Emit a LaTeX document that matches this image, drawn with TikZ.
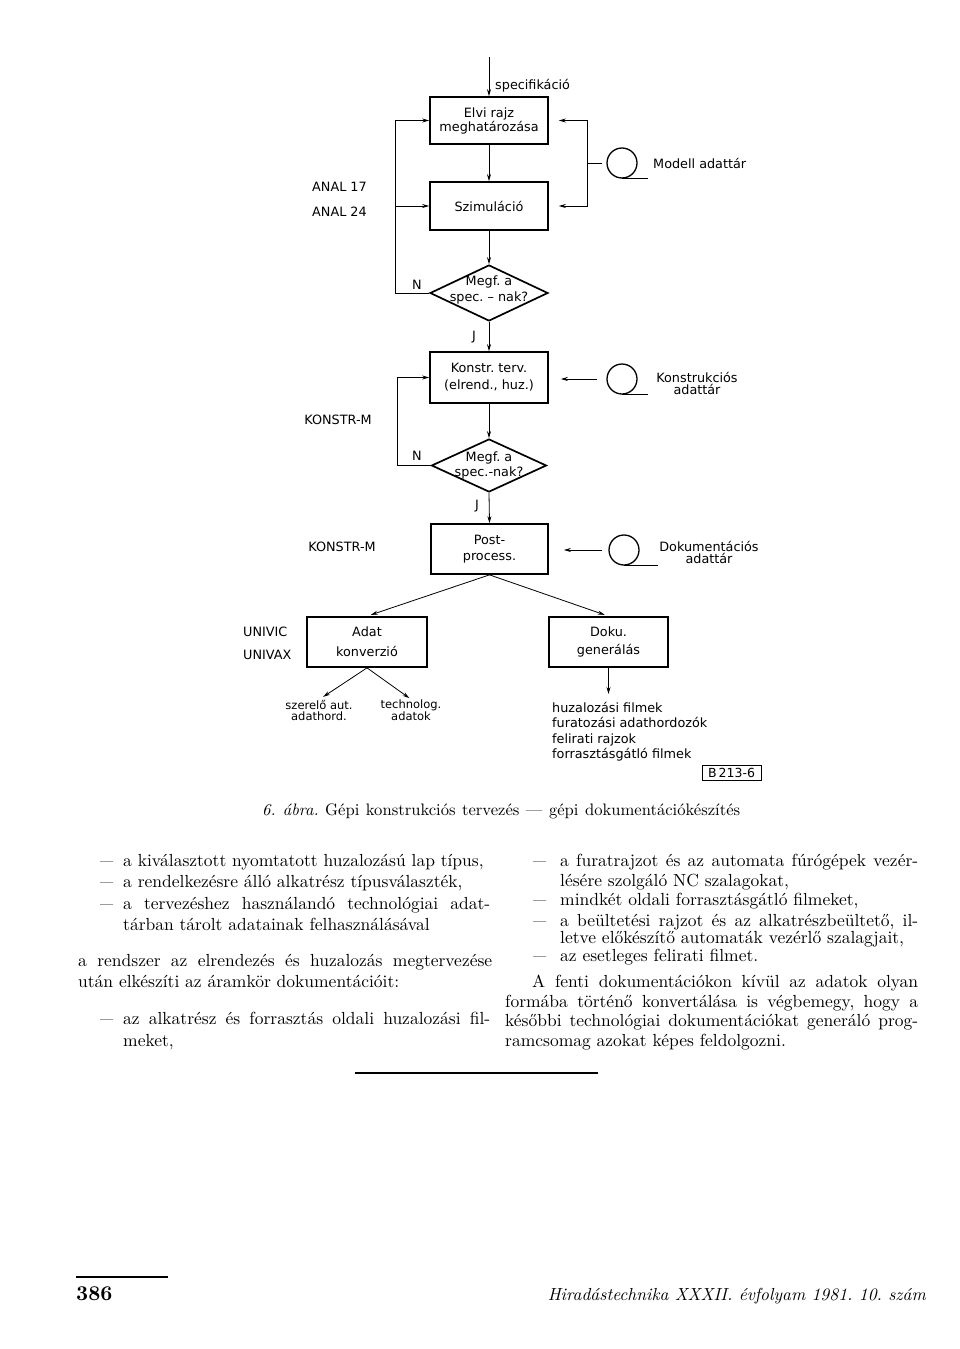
\documentclass[tikz,border=0pt]{standalone}
\usepackage{fontspec}
\usepackage{graphicx}
\setmainfont{lmroman10}[Extension=.otf, UprightFont=*-regular, ItalicFont=*-italic, BoldFont=*-bold, BoldItalicFont=*-bolditalic]
\newfontfamily\diag{DejaVu Sans}
\usetikzlibrary{arrows.meta,calc,shapes.geometric}
\newcommand\dsh{\scalebox{0.75}[1]{—}}
\frenchspacing
\begin{document}
\frenchspacing
\begin{tikzpicture}[x=1pt,y=-1pt,
  dg/.style={font=\diag\fontsize{12.8}{15}\selectfont, inner sep=0pt},
  box/.style={draw, line width=1.7pt, inner sep=0pt, align=center},
  dia/.style={draw, diamond, line width=1.7pt, inner sep=0pt},
  tape/.style={draw, circle, line width=1.3pt, minimum size=30pt, inner sep=0pt},
  conn/.style={line width=0.8pt, -{Stealth[length=7pt,width=4pt]}},
  plain/.style={line width=0.8pt},
  body/.style={anchor=base west, inner sep=0pt, font=\fontsize{17.5}{20}\selectfont},
]
\useasboundingbox (0,0) rectangle (960,1349);

% ---- process boxes and decisions
\node[box, minimum width=118pt, minimum height=47pt, font=\diag\fontsize{12.8}{14}\selectfont] (b1) at (489,120.5) {Elvi rajz\\meghatározása};
\node[box, minimum width=118pt, minimum height=48pt, font=\diag\fontsize{12.8}{15}\selectfont] (b2) at (489,206) {Szimuláció};
\node[dia, minimum width=118pt, minimum height=56pt] (d1) at (489,293) {};
\node[dg, align=center, font=\diag\fontsize{12.8}{16}\selectfont] (d1t) at (489,290) {Megf. a\\spec. – nak?};
\node[box, minimum width=118pt, minimum height=51pt, font=\diag\fontsize{12.8}{17}\selectfont] (b3) at (489,377.5) {Konstr. terv.\\(elrend., huz.)};
\node[dia, minimum width=115pt, minimum height=53pt] (d2) at (489,465.5) {};
\node[dg, align=center, font=\diag\fontsize{12.8}{15}\selectfont] (d2t) at (489,465) {Megf. a\\spec.-nak?};
\node[box, minimum width=117pt, minimum height=50pt, font=\diag\fontsize{12.8}{16}\selectfont] (pp) at (489.5,549) {Post-\\process.};
\node[box, minimum width=120pt, minimum height=50pt, font=\diag\fontsize{12.8}{20}\selectfont] (ad) at (367,642) {Adat\\konverzió};
\node[box, minimum width=119pt, minimum height=50pt, font=\diag\fontsize{12.8}{18}\selectfont] (dk) at (608.5,642) {Doku.\\generálás};

% ---- tape (data store) symbols
\node[tape] (t1) at (622,163) {};
\node[tape] (t2) at (622,379) {};
\node[tape] (t3) at (624,550) {};
\draw[plain] (t1.south) -- ++(26,0);
\draw[plain] (t2.south) -- ++(26,0);
\draw[plain] (t3.south) -- ++(34,0);

% ---- labels
\node[dg, anchor=west] (spec) at (495,86) {specifikáció};
\node[dg, anchor=west] (mod) at (653,163) {Modell adattár};
\node[dg, align=center, font=\diag\fontsize{12.8}{12}\selectfont] (kon) at (697,383) {Konstrukciós\\adattár};
\node[dg, align=center, font=\diag\fontsize{12.8}{12}\selectfont] (dok) at (709,552) {Dokumentációs\\adattár};
\node[dg, anchor=west] (an1) at (312,187) {ANAL 17};
\node[dg, anchor=west] (an2) at (312,212) {ANAL 24};
\node[dg] (km1) at (338,420) {KONSTR-M};
\node[dg] (km2) at (342,547) {KONSTR-M};
\node[dg] (n1) at (417,285) {N};
\node[dg] (n2) at (417,456) {N};
\node[dg] (j1) at (474,337) {J};
\node[dg] (j2) at (477,506) {J};
\node[dg, anchor=west] (uv1) at (243,632) {UNIVIC};
\node[dg, anchor=west] (uv2) at (243,655) {UNIVAX};
\node[dg, align=center, font=\diag\fontsize{11.5}{11}\selectfont] (sz) at (319,710) {szerelő aut.\\adathord.};
\node[dg, align=center, font=\diag\fontsize{11.5}{11}\selectfont] (te) at (411,710) {technolog.\\adatok};
\node[dg, align=left, anchor=north west, font=\diag\fontsize{12.8}{15.3}\selectfont] (lst) at (552,702) {huzalozási filmek\\furatozási adathordozók\\felirati rajzok\\forrasztásgátló filmek};
\node[draw, line width=1pt, minimum width=59pt, minimum height=15pt, inner sep=0pt, font=\diag\fontsize{12.5}{12}\selectfont] (bn) at (731.5,772.5) {B\,213-6};

% ---- connectors
\coordinate (top) at (489,57);
\draw[conn] (top) -- (b1.north);
\draw[conn] (b1.south) -- (b2.north);
\draw[conn] (b2.south) -- (d1.north);
\draw[conn] (d1.south) -- (b3.north);
\draw[conn] (b3.south) -- (d2.north);
\draw[conn] (d2.south) -- (pp.north);
\coordinate (L1) at (395,293);
\draw[conn] (d1.west) -- (L1) |- (b1.west);
\draw[conn] (L1 |- b2.west) -- (b2.west);
\coordinate (L2) at (397,465.5);
\draw[conn] (d2.west) -- (L2) |- (b3.west);
\coordinate (R1) at (587,163);
\draw[plain] ($(t1.west)+(-4,0)$) -- (R1);
\draw[conn] (R1) |- ($(b1.east)+(10,0)$);
\draw[conn] (R1) |- ($(b2.east)+(10,0)$);
\draw[conn] ($(t2.west)+(-9,0)$) -- ($(b3.east |- t2.west)+(12,0)$);
\draw[conn] ($(t3.west)+(-6,0)$) -- ($(pp.east |- t3.west)+(15,0)$);
\draw[conn, shorten >=4pt] (pp.south) -- (ad.north);
\draw[conn, shorten >=4pt] (pp.south) -- (dk.north);
\draw[conn, shorten >=5pt] (ad.south) -- (sz.north);
\draw[conn, shorten >=2pt] (ad.south) -- (te.north);
\draw[conn, shorten >=8pt] (dk.south) -- (dk.south |- lst.north);

% ---- caption
\node[anchor=base west, inner sep=0pt, font=\fontsize{16.6}{18}\selectfont] (cap) at (262,815) {\makebox[478pt][s]{\textit{6. ábra.} Gépi konstrukciós tervezés — gépi dokumentációkészítés}};

% ---- left column
\node[body] (la1) at (100,866) {\dsh};
\node[body] (lt1) at (123,866) {a kiválasztott nyomtatott huzalozású lap típus,};
\node[body] (la2) at (100,887) {\dsh};
\node[body] (lt2) at (123,887) {a rendelkezésre álló alkatrész típusválaszték,};
\node[body] (la3) at (100,909) {\dsh};
\node[body] (lt3) at (123,909) {\makebox[367pt][s]{a tervezéshez használandó technológiai adat-}};
\node[body] (lt4) at (123,930) {tárban tárolt adatainak felhasználásával};
\node[body] (lt5) at (78,966) {\makebox[414pt][s]{a rendszer az elrendezés és huzalozás megtervezése}};
\node[body] (lt6) at (78,987) {után elkészíti az áramkör dokumentációit:};
\node[body] (la7) at (100,1024) {\dsh};
\node[body] (lt7) at (123,1024) {\makebox[367pt][s]{az alkatrész és forrasztás oldali huzalozási fil-}};
\node[body] (lt8) at (123,1046) {meket,};

% ---- right column
\node[body] (ra1) at (533,866) {\dsh};
\node[body] (rt1) at (560,866) {\makebox[358pt][s]{a furatrajzot és az automata fúrógépek vezér-}};
\node[body] (rt2) at (560,886) {lésére szolgáló NC szalagokat,};
\node[body] (ra3) at (533,905) {\dsh};
\node[body] (rt3) at (560,905) {mindkét oldali forrasztásgátló filmeket,};
\node[body] (ra4) at (533,926) {\dsh};
\node[body] (rt4) at (560,926) {\makebox[358pt][s]{a beültetési rajzot és az alkatrészbeültető, il-}};
\node[body] (rt5) at (560,943) {letve előkészítő automaták vezérlő szalagjait,};
\node[body] (ra6) at (533,961) {\dsh};
\node[body] (rt6) at (560,961) {az esetleges felirati filmet.};
\node[body] (rt7) at (532,987) {\makebox[386pt][s]{A fenti dokumentációkon kívül az adatok olyan}};
\node[body] (rt8) at (505,1007) {\makebox[413pt][s]{formába történő konvertálása is végbemegy, hogy a}};
\node[body] (rt9) at (505,1026) {\makebox[413pt][s]{későbbi technológiai dokumentációkat generáló prog-}};
\node[body] (rt10) at (505,1046) {ramcsomag azokat képes feldolgozni.};

% ---- separator rule
\draw[line width=1.2pt] (355,1073) -- (598,1073);

% ---- footer
\draw[line width=1.3pt] (76,1277) -- (168,1277);
\node[anchor=base west, inner sep=0pt, font=\fontsize{21}{21}\selectfont\bfseries] (pg) at (76,1300) {386};
\node[anchor=base east, inner sep=0pt] (jr) at (926,1300) {\resizebox{378pt}{!}{\itshape Hiradástechnika XXXII. évfolyam 1981. 10. szám}};
\end{tikzpicture}
\end{document}
